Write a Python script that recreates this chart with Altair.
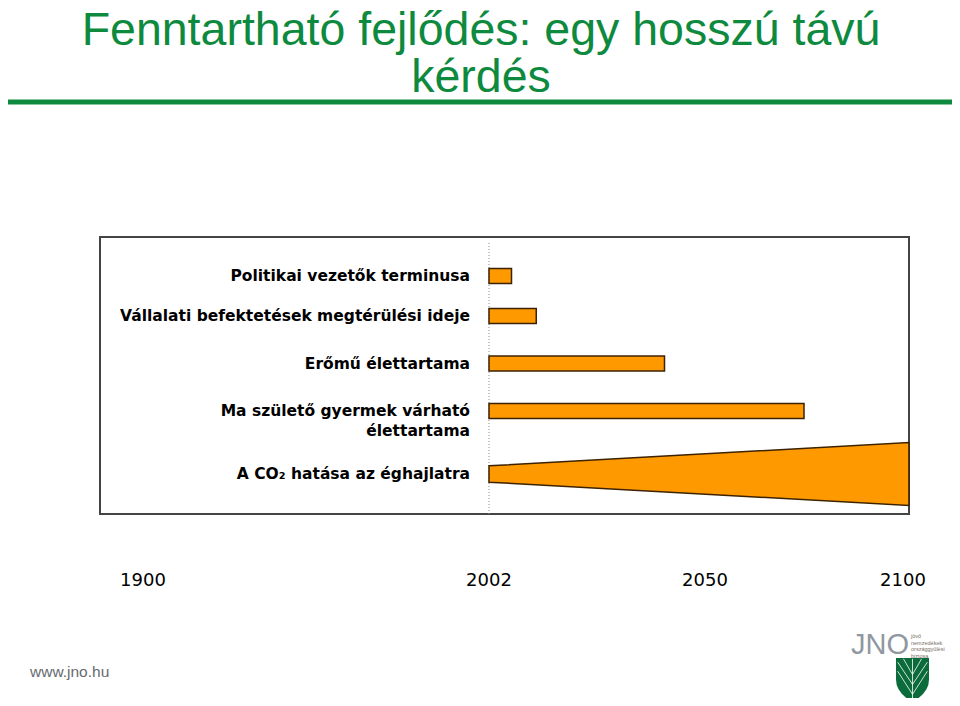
import altair as alt
import pandas as pd

# ---- data ----
labels = [
    "Politikai vezetők terminusa",
    "Vállalati befektetések megtérülési ideje",
    "Erőmű élettartama",
    "Ma születő gyermek várható\nélettartama",
    "A CO₂ hatása az éghajlatra",
]
rows = [1, 2, 3, 4, 5]
bar_start = [2002, 2002, 2002, 2002]
bar_end = [2007, 2012.5, 2041, 2075]
co2_years = [2002, 2101.5]
co2_spread = [0.13, 0.5]
tick_years = [1900, 2002, 2050, 2100]
now_year = [2002]

title_line1 = "Fenntartható fejlődés: egy hosszú távú"
title_line2 = "kérdés"
footer = "www.jno.hu"
logo_words = "jövő\nnemzedékek\nországgyűlési\nbiztosa"

GREEN = "#0E8A3E"
ORANGE = "#FF9900"
OUTLINE = "#3d2200"

xscale = alt.Scale(domain=tick_years, range=[43, 389, 605, 803], nice=False, zero=False, padding=0)
yscale = alt.Scale(domain=rows, range=[39, 79, 126.5, 174, 237], nice=False, zero=False, padding=0)

bars_df = pd.DataFrame({"row": rows[:4], "start": bar_start, "end": bar_end})
co2_df = pd.DataFrame({
    "year": co2_years,
    "lo": [rows[4] - s for s in co2_spread],
    "hi": [rows[4] + s for s in co2_spread],
})
labels_df = pd.DataFrame({"row": rows, "label": labels})
ticks_df = pd.DataFrame({"year": tick_years})
now_df = pd.DataFrame({"year": now_year})

bars = alt.Chart(bars_df).mark_bar(
    orient="horizontal", size=15, color=ORANGE, stroke=OUTLINE, strokeWidth=1.5
).encode(
    x=alt.X("start:Q", scale=xscale, axis=None),
    x2="end:Q",
    y=alt.Y("row:Q", scale=yscale, axis=None),
)

co2 = alt.Chart(co2_df).mark_area(
    color=ORANGE, stroke=OUTLINE, strokeWidth=1.5, orient="vertical"
).encode(
    x=alt.X("year:Q", scale=xscale, axis=None),
    y=alt.Y("lo:Q", scale=yscale, axis=None),
    y2="hi:Q",
)

now_rule = alt.Chart(now_df).mark_rule(
    color="#8a8a8a", strokeDash=[1, 2], strokeWidth=1
).encode(
    x=alt.X("year:Q", scale=xscale, axis=None),
    y=alt.value(6),
    y2=alt.value(277),
)

row_labels = alt.Chart(labels_df).mark_text(
    align="right", baseline="alphabetic", dy=5, font="DejaVu Sans",
    fontWeight="bold", fontSize=15.5, lineBreak="\n", lineHeight=19.5, color="#000000"
).encode(
    x=alt.value(370),
    y=alt.Y("row:Q", scale=yscale, axis=None),
    text="label:N",
)

year_labels = alt.Chart(ticks_df).mark_text(
    align="center", baseline="alphabetic", font="DejaVu Sans", fontSize=18, color="#000000"
).encode(
    x=alt.X("year:Q", scale=xscale, axis=None),
    y=alt.value(349),
    text=alt.Text("year:Q", format="d"),
)

one = pd.DataFrame({"k": [0]})

title1 = alt.Chart(one).mark_text(
    text=title_line1, align="center", baseline="alphabetic",
    font="Liberation Sans", fontSize=46.5, color=GREEN
).encode(x=alt.value(381), y=alt.value(-192))

title2 = alt.Chart(one).mark_text(
    text=title_line2, align="center", baseline="alphabetic",
    font="Liberation Sans", fontSize=46.5, color=GREEN
).encode(x=alt.value(381), y=alt.value(-145))

green_line = alt.Chart(one).mark_rule(color=GREEN, strokeWidth=5).encode(
    x=alt.value(-100), x2=alt.value(860), y=alt.value(-135)
)

footer_text = alt.Chart(one).mark_text(
    text=footer, align="left", baseline="alphabetic", font="Liberation Sans",
    fontSize=15.5, color="#666a70"
).encode(x=alt.value(-70), y=alt.value(440))

jno = alt.Chart(one).mark_text(
    text="JNO", align="left", baseline="alphabetic", font="Liberation Sans",
    fontSize=29, color="#9097a0"
).encode(x=alt.value(751), y=alt.value(417))

jno_words = alt.Chart(one).mark_text(
    text=logo_words, lineBreak="\n", lineHeight=6.5, align="left", baseline="alphabetic",
    font="Liberation Sans", fontSize=5.5, color="#7a6f66"
).encode(x=alt.value(811), y=alt.value(401))

shield_path = "M-1,-1 L1,-1 L1,0.3 Q1,1.1 0,1.67 Q-1,1.1 -1,0.3 Z"
shield = alt.Chart(one).mark_point(
    shape=shield_path, filled=True, size=1089, color="#0b6b3a", opacity=1
).encode(x=alt.value(812.5), y=alt.value(437.5))

veins_path = ("M0,-0.95 L0,1.55 M0,1.2 L-0.9,-0.2 M0,1.2 L0.9,-0.2 "
              "M0,0.6 L-0.9,-0.75 M0,0.6 L0.9,-0.75 M0,0 L-0.55,-0.95 M0,0 L0.55,-0.95")
veins = alt.Chart(one).mark_point(
    shape=veins_path, filled=False, size=1089, color="#ffffff", strokeWidth=0.8, opacity=1
).encode(x=alt.value(812.5), y=alt.value(437.5))

chart = alt.layer(
    now_rule, co2, bars, row_labels, year_labels, title1, title2, green_line,
    footer_text, jno, jno_words, shield, veins
).properties(
    width=809, height=277,
    padding={"left": 92, "top": 229, "right": 43, "bottom": 184},
    autosize=alt.AutoSizeParams(type="none"),
    background="white",
).configure_view(stroke="#444444", strokeWidth=2)

chart.save("out.html", embed_options={"renderer": "svg", "actions": False})
